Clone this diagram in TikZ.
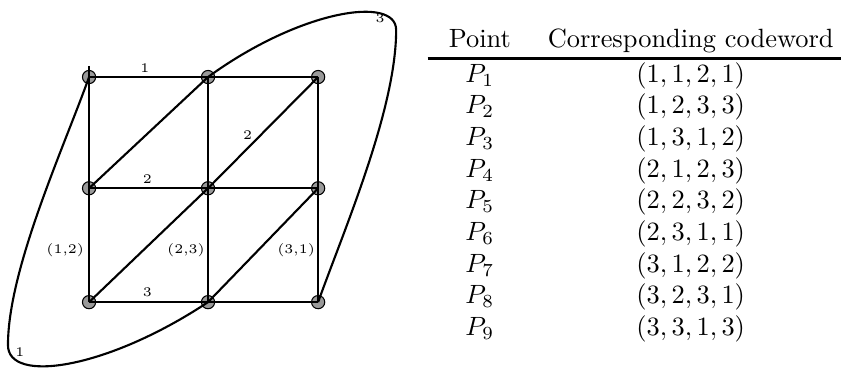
\documentclass[tikz,border=0pt]{standalone}
\usepackage{amsmath}
\usepackage{xcolor}

\begin{document}
\begin{tikzpicture}[
    pt/.style={circle, draw, fill=black!40, minimum size=5pt, inner sep=0pt},
    lbl/.style={font=\tiny, inner sep=1.5pt},
    gridline/.style={thick},
    bigline/.style={thick}
]
    \useasboundingbox (0,0) rectangle (11.19,4.925);

    % Grid points
    \node[pt] (p11) at (1.185,3.90) {};
    \node[pt] (p12) at (2.768,3.90) {};
    \node[pt] (p13) at (4.233,3.90) {};
    \node[pt] (p21) at (1.185,2.42) {};
    \node[pt] (p22) at (2.768,2.42) {};
    \node[pt] (p23) at (4.233,2.42) {};
    \node[pt] (p31) at (1.185,0.905) {};
    \node[pt] (p32) at (2.768,0.905) {};
    \node[pt] (p33) at (4.233,0.905) {};
    \coordinate (tick) at (1.185,4.05);

    % Rows
    \draw[gridline] (p11.center) -- node[lbl, above, pos=.47] {1} (p12.center) -- (p13.center);
    \draw[gridline] (p21.center) -- node[lbl, above, pos=.49] {2} (p22.center) -- (p23.center);
    \draw[gridline] (p31.center) -- node[lbl, above, pos=.49] {3} (p32.center) -- (p33.center);

    % Columns
    \draw[gridline] (tick) -- (p11.center) -- (p21.center) -- node[lbl, left, pos=.54] {(1,2)} (p31.center);
    \draw[gridline] (p12.center) -- (p22.center) -- node[lbl, left, pos=.54, inner sep=.8pt] {(2,3)} (p32.center);
    \draw[gridline] (p13.center) -- (p23.center) -- node[lbl, left, pos=.54, inner sep=.8pt] {(3,1)} (p33.center);

    % Diagonals
    \draw[gridline] (p21.center) -- (p12.center);
    \draw[gridline] (p31.center) -- (p22.center) -- node[lbl, above=1.5pt, pos=.36] {2} (p13.center);
    \draw[gridline] (p32.center) -- (p23.center);

    % Curved parts of the line
    \draw[bigline] (p11.center) .. controls (0.852,2.968) and (0.106,1.344) .. (0.106,0.333)
        .. controls (0.106,-0.186) and (1.424,0.013) .. (p32.center);
    \draw[bigline] (p33.center) .. controls (4.565,1.837) and (5.271,3.461) .. (5.271,4.525)
        .. controls (5.271,4.991) and (3.993,4.792) .. (p12.center);
    \node[lbl] (c3) at (5.058,4.685) {3};
    \node[lbl] (c1) at (0.266,0.240) {1};

    % Table of codewords
    \node[anchor=north west, inner sep=0pt] (tbl) at (5.683,4.592) {%
        \begin{tabular}{@{\hspace{8pt}}c@{\hspace{14pt}}c@{\hspace{6pt}}}
            Point & Corresponding codeword\\
            \noalign{\hrule height 1pt}
            $P_1$ & $(1,1,2,1)$\\
            $P_2$ & $(1,2,3,3)$\\
            $P_3$ & $(1,3,1,2)$\\
            $P_4$ & $(2,1,2,3)$\\
            $P_5$ & $(2,2,3,2)$\\
            $P_6$ & $(2,3,1,1)$\\
            $P_7$ & $(3,1,2,2)$\\
            $P_8$ & $(3,2,3,1)$\\
            $P_9$ & $(3,3,1,3)$
        \end{tabular}};
\end{tikzpicture}
\end{document}
